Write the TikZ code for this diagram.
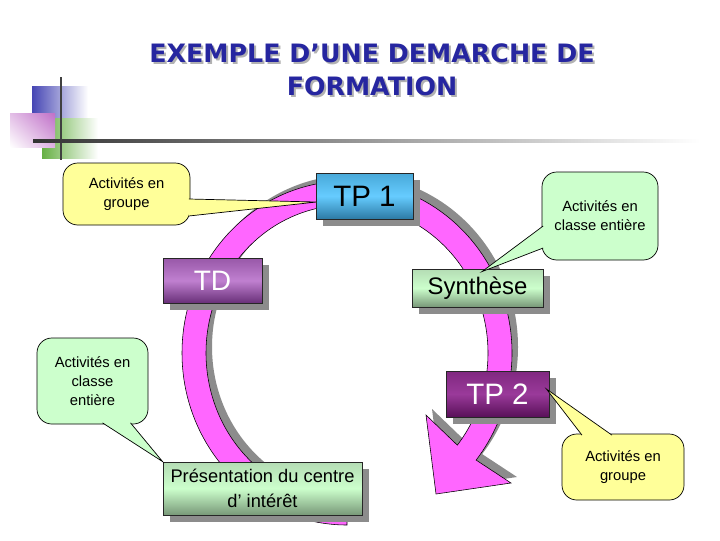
\documentclass[tikz,border=0pt]{standalone}
\usepackage{fontspec}
\setmainfont{Liberation Sans}
\newfontfamily\titlefont{DejaVu Sans}
\usetikzlibrary{calc,shadows,shadings}

\newdimen\unitpx
\unitpx=0.025cm

\definecolor{ringpink}{HTML}{FF66FF}
\definecolor{noteyellow}{HTML}{FFFF99}
\definecolor{notegreen}{HTML}{CCFFCC}
\definecolor{titlenavy}{HTML}{2626A0}
\definecolor{sqblue}{HTML}{4646B4}
\definecolor{sqgreen}{HTML}{66B044}
\definecolor{sqpink}{HTML}{C070C8}
\definecolor{tponetop}{HTML}{48A8D8}
\definecolor{tponemid}{HTML}{66CCFF}
\definecolor{tponebot}{HTML}{2C7AA4}
\definecolor{tdtop}{HTML}{9858A8}
\definecolor{tdmid}{HTML}{C080D0}
\definecolor{tdbot}{HTML}{683078}
\definecolor{tptwotop}{HTML}{802880}
\definecolor{tptwomid}{HTML}{9A3A9A}
\definecolor{tptwobot}{HTML}{581058}
\definecolor{grtop}{HTML}{B4DCB4}
\definecolor{grmid}{HTML}{CCFFCC}
\definecolor{grbot}{HTML}{789878}

\begin{document}
\begin{tikzpicture}[
  x=\unitpx, y=-\unitpx,
  box/.style={draw=black!85, line width=0.6pt, inner sep=0pt, align=center,
    drop shadow={shadow xshift=0.18cm, shadow yshift=-0.18cm, fill=black!45, opacity=1}},
  bluebox/.style={box, top color=tponetop, bottom color=tponebot, middle color=tponemid},
  purplebox/.style={box, top color=tdtop, bottom color=tdbot, middle color=tdmid, text=white},
  darkbox/.style={box, top color=tptwotop, bottom color=tptwobot, middle color=tptwomid, text=white},
  greenbox/.style={box, top color=grtop, bottom color=grbot, middle color=grmid},
  note/.style={draw=black, line width=0.5pt, rounded corners=0.37cm, align=center, inner sep=0pt,
    font=\fontsize{10.5}{13.5}\selectfont},
  yellownote/.style={note, fill=noteyellow},
  greennote/.style={note, fill=notegreen},
  wedge/.style={line width=0.5pt, draw=black}
]
\fill[white] (0,0) rectangle (720,540);
\useasboundingbox (0,0) rectangle (720,540);

% corner logo
\shade[left color=sqblue, middle color=sqblue, right color=white] (32,86) rectangle (88,118);
\shade[left color=sqgreen, middle color=sqgreen, right color=white] (42,118) rectangle (98,158);
\shade[upper right=sqpink, upper left=sqpink!45, lower right=sqpink!55, lower left=white] (10,113) rectangle (55,147);
\draw[line width=1.4pt, black!75] (61,77) -- (61,160);
\shade[left color=black!80, right color=white] (33,139.5) rectangle (700,142);

\foreach \dx/\dy/\titlecol in {2/2/black!30, 0/0/titlenavy}
  \node[font=\titlefont\fontsize{18}{23.5}\selectfont\bfseries, text=\titlecol, align=center]
    (title) at (372+\dx,69.5+\dy) {EXEMPLE D’UNE DEMARCHE DE\\FORMATION};

% cycle arrow
\foreach \dx/\dy/\ringfill/\ringdraw in {6/-6/black!45/none, 0/0/ringpink/black}
  \filldraw[fill=\ringfill, draw=\ringdraw, line width=0.4pt, shift={(347+\dx,353+\dy)}]
    (90:165 and 172) arc[start angle=90, end angle=398.5, x radius=165, y radius=172]
    -- (164,130) -- (89,141) -- (79,62)
    -- (398.5:141 and 148) arc[start angle=398.5, end angle=90, x radius=141, y radius=148] -- cycle;

\node[bluebox, minimum width=97\unitpx, minimum height=46\unitpx, font=\fontsize{21}{24}\selectfont]
  (tpone) at (364.5,196) {TP 1};
\node[purplebox, minimum width=99\unitpx, minimum height=45\unitpx, font=\fontsize{20}{24}\selectfont]
  (td) at (212.5,280.5) {TD};
\node[greenbox, minimum width=131\unitpx, minimum height=38\unitpx, font=\fontsize{17}{20}\selectfont]
  (synth) at (477.5,288) {Synthèse};
\node[darkbox, minimum width=103\unitpx, minimum height=46\unitpx, font=\fontsize{21}{24}\selectfont]
  (tptwo) at (497.5,394) {TP 2};
\node[greenbox, minimum width=199\unitpx, minimum height=53\unitpx, font=\fontsize{13}{18}\selectfont]
  (pres) at (262.5,488.5) {Présentation du centre\\d’ intérêt};

\node[yellownote, minimum width=127\unitpx, minimum height=62\unitpx] (grpone) at (126.5,194) {Activités en\\groupe};
\filldraw[wedge, fill=noteyellow] ($(grpone.east)+(-1.5,5)$) -- ($(tpone.west)+(1,6)$) -- ($(grpone.east)+(-1.5,22)$);

\node[greennote, minimum width=116\unitpx, minimum height=88\unitpx] (clsone) at (600,216) {Activités en\\classe entière};
\filldraw[wedge, fill=notegreen] ($(clsone.west)+(1.5,10)$) -- ($(synth.north)+(4.5,3)$) -- ($(clsone.west)+(1.5,32)$);

\node[greennote, minimum width=111\unitpx, minimum height=86\unitpx] (clstwo) at (92.5,381) {Activités en\\classe\\entière};
\filldraw[wedge, fill=notegreen] ($(clstwo.south)+(10,-1.5)$) -- (pres.north west) -- ($(clstwo.south)+(38,-1.5)$);

\node[yellownote, minimum width=122\unitpx, minimum height=66\unitpx] (grptwo) at (623,467) {Activités en\\groupe};
\filldraw[wedge, fill=noteyellow] ($(grptwo.north)+(-41,1.5)$) -- ($(tptwo.east)+(-3,-5)$) -- ($(grptwo.north)+(-11,1.5)$);

\end{tikzpicture}
\end{document}
